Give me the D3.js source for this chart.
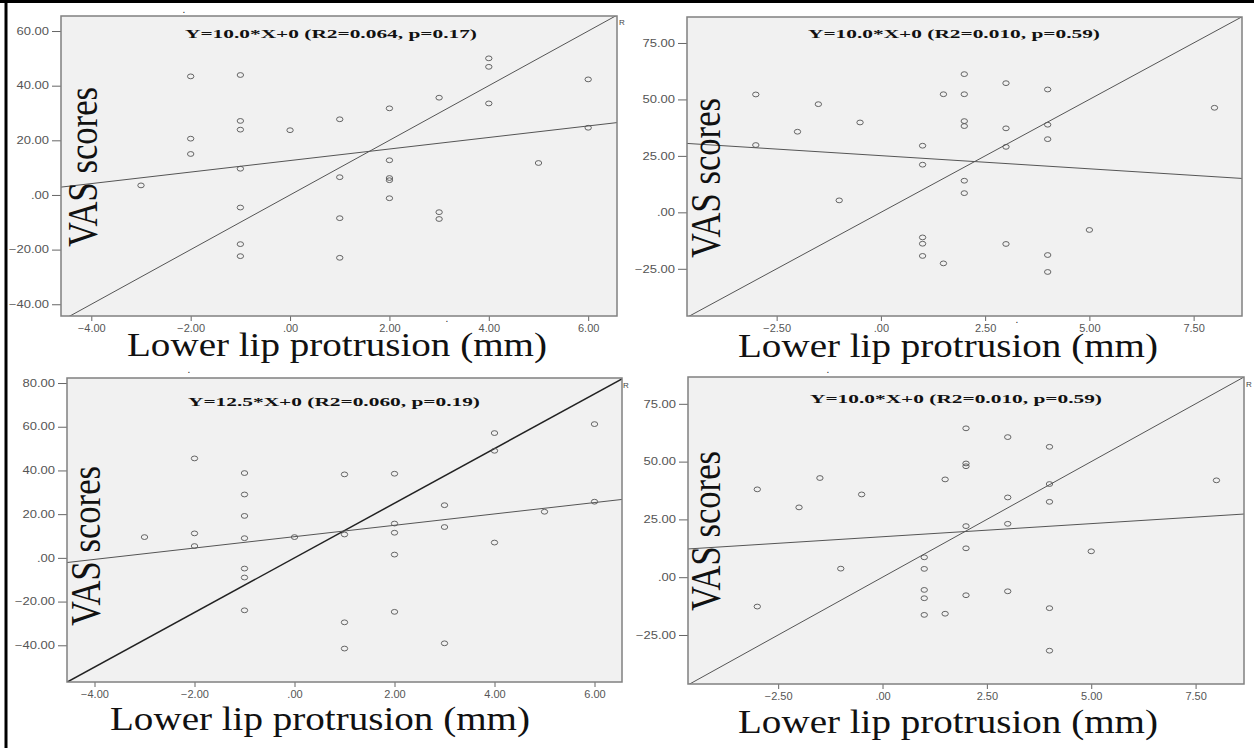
<!DOCTYPE html>
<html>
<head>
<meta charset="utf-8">
<script src="https://cdn.jsdelivr.net/npm/d3@7"></script>
<style>
  body { margin: 0; background: #fff; }
  svg { display: block; }
</style>
</head>
<body>
<div id="chart"></div>
<script>
// tick values of the two axis layouts
const xTicksA = [-4, -2, 0, 2, 4, 6];
const yTicksA = [-40, -20, 0, 20, 40, 60];
const yTicksC = [-40, -20, 0, 20, 40, 60, 80];
const xTicksB = [-2.5, 0, 2.5, 5, 7.5];
const yTicksB = [-25, 0, 25, 50, 75];

// axis extents
const xDomains = [[-4.61, 6.58], [-4.65, 8.66], [-4.55, 6.55], [-4.66, 8.66]];
const yDomains = [[-44.3, 65.5], [-45.9, 86.5], [-56.8, 82.3], [-46.2, 86.6]];

// reference line slopes (Y = k*X + 0) and fitted lines (intercept, slope)
const refSlopes = [10.0, 10.0, 12.5, 10.0];
const fitIntercepts = [12.6, 25.1, 9.7, 17.5];
const fitSlopes = [2.11, -1.165, 2.6, 1.134];

const statLabels = [
  "Y=10.0*X+0 (R2=0.064, p=0.17)",
  "Y=10.0*X+0 (R2=0.010, p=0.59)",
  "Y=12.5*X+0 (R2=0.060, p=0.19)",
  "Y=10.0*X+0 (R2=0.010, p=0.59)"
];
const yTitle = "VAS scores";
const xTitle = "Lower lip protrusion (mm)";

// scatter points
const p1X = [-2, -1, -1, -1, 0, -2, -2, -1, -3, -1, -1, -1, 4, 4, 6, 3, 4, 2, 1, 6, 2, 5, 1, 2, 2, 2, 3, 3, 1, 1];
const p1Y = [43.4, 43.9, 27.1, 23.9, 23.7, 20.6, 15.0, 9.6, 3.5, -4.6, -18.0, -22.4, 50.0, 46.9, 42.3, 35.6, 33.5, 31.7, 27.7, 24.6, 12.7, 11.7, 6.5, 6.2, 5.4, -1.2, -6.3, -8.8, -8.5, -23.0];

const p2X = [-3, -3, -1.5, -2, -0.5, -1, 1, 1, 1, 1, 1, 1.5, 1.5, 2, 2, 2, 2, 2, 2, 3, 3, 3, 3, 4, 4, 4, 4, 4, 5, 8];
const p2Y = [52.2, 29.8, 47.9, 35.7, 39.8, 5.3, 29.5, 21.1, -11.1, -13.9, -19.3, 52.3, -22.6, 61.2, 52.3, 40.4, 38.2, 14.0, 8.5, 57.2, 37.2, 29.0, -14.0, 54.4, 38.8, 32.4, -18.9, -26.4, -7.8, 46.3];

const p3X = [-3, -2, -2, -2, -1, -1, -1, -1, -1, -1, -1, 0, 1, 1, 1, 1, 2, 2, 2, 2, 2, 3, 3, 3, 4, 4, 4, 5, 6, 6];
const p3Y = [9.5, 45.5, 11.2, 5.4, 38.8, 29.0, 19.2, 9.0, -4.9, -9.0, -24.0, 9.5, 38.2, 10.7, -29.5, -41.5, 38.5, 15.7, 11.5, 1.5, -24.7, 24.1, 14.1, -39.1, 57.1, 49.0, 7.0, 21.1, 61.2, 25.7];

const p4X = [-3, -3, -2, -1.5, -0.5, -1, 1, 1, 1, 1, 1, 1.5, 1.5, 2, 2, 2, 2, 2, 2, 3, 3, 3, 3, 4, 4, 4, 4, 4, 5, 8];
const p4Y = [38.0, -12.7, 30.2, 42.9, 35.8, 3.7, 8.6, 3.6, -5.5, -9.1, -16.3, 42.3, -15.8, 64.4, 49.2, 48.0, 22.1, 12.5, -7.8, 60.6, 34.5, 23.1, -6.1, 56.4, 40.3, 32.6, -13.4, -31.8, 11.2, 41.9];

const W = 1254, H = 748;

// where each panel sits on the page
const layout = [
  {l: 61, r: 617, t: 16, b: 316, stat: [185, 38], vas: [97, 167], xt: [127, 356], rLabel: [619, 25], dots: [[184, 13], [447, 322]]},
  {l: 687, r: 1242, t: 17, b: 316, stat: [808, 38], vas: [720, 178], xt: [738, 357], rLabel: null, dots: [[1017, 323]]},
  {l: 67, r: 622, t: 378, b: 682, stat: [188, 406], vas: [100, 546], xt: [110, 730], rLabel: [623, 388], dots: [[189, 373]]},
  {l: 688, r: 1244, t: 377, b: 684, stat: [810, 403], vas: [720, 531], xt: [738, 733], rLabel: [1246, 387], dots: [[828, 373]]}
];

const panels = [
  {xs: p1X, ys: p1Y, xt: xTicksA, yt: yTicksA},
  {xs: p2X, ys: p2Y, xt: xTicksB, yt: yTicksB},
  {xs: p3X, ys: p3Y, xt: xTicksA, yt: yTicksC},
  {xs: p4X, ys: p4Y, xt: xTicksB, yt: yTicksB}
];

const fmt = v => d3.format(".2f")(v).replace(/^(-?)0\./, "$1.");

const svg = d3.select("#chart")
  .append("svg")
    .attr("width", W)
    .attr("height", H);

svg.append("rect").attr("width", W).attr("height", H).attr("fill", "#fff");

// stretch a text element's width by a factor
function stretch(sel, f) {
  sel.each(function() {
    const w = this.getComputedTextLength();
    d3.select(this).attr("textLength", w * f).attr("lengthAdjust", "spacingAndGlyphs");
  });
}

panels.forEach((p, i) => {
  const L = layout[i];
  const x = d3.scaleLinear().domain(xDomains[i]).range([L.l, L.r]);
  const y = d3.scaleLinear().domain(yDomains[i]).range([L.b, L.t]);

  const clipId = "clip" + i;
  svg.append("clipPath").attr("id", clipId)
    .append("rect")
      .attr("x", L.l).attr("y", L.t)
      .attr("width", L.r - L.l).attr("height", L.b - L.t);

  // plot background
  svg.append("rect")
    .attr("x", L.l).attr("y", L.t)
    .attr("width", L.r - L.l).attr("height", L.b - L.t)
    .attr("fill", "#f1f1f1");

  // Y axis
  const gy = svg.append("g")
    .attr("transform", `translate(${L.l},0)`)
    .call(d3.axisLeft(y).tickValues(p.yt).tickFormat(fmt).tickSize(9).tickPadding(3));
  gy.select(".domain").remove();
  gy.selectAll("line").attr("stroke", "#666");
  gy.selectAll("text")
    .attr("fill", "#555")
    .style("font-family", "'Liberation Sans', Arial, sans-serif")
    .style("font-size", "10px")
    .call(stretch, 1.3);

  // X axis
  const gx = svg.append("g")
    .attr("transform", `translate(0,${L.b})`)
    .call(d3.axisBottom(x).tickValues(p.xt).tickFormat(fmt).tickSize(5).tickPadding(4));
  gx.select(".domain").remove();
  gx.selectAll("line").attr("stroke", "#666");
  gx.selectAll("text")
    .attr("fill", "#555")
    .style("font-family", "'Liberation Sans', Arial, sans-serif")
    .style("font-size", "10px")
    .call(stretch, 1.1);

  const g = svg.append("g").attr("clip-path", `url(#${clipId})`);
  const dom = xDomains[i];
  const line = d3.line().x(d => x(d[0])).y(d => y(d[1]));

  // reference line Y = k*X
  g.append("path")
    .attr("d", line(dom.map(v => [v, refSlopes[i] * v])))
    .attr("fill", "none")
    .attr("stroke", i === 2 ? "#222" : "#555")
    .attr("stroke-width", i === 2 ? 1.5 : 1);

  // fitted line
  g.append("path")
    .attr("d", line(dom.map(v => [v, fitIntercepts[i] + fitSlopes[i] * v])))
    .attr("fill", "none")
    .attr("stroke", "#555")
    .attr("stroke-width", 1);

  // points
  g.selectAll("ellipse")
    .data(p.xs.map((v, k) => [v, p.ys[k]]))
    .enter()
    .append("ellipse")
      .attr("cx", d => x(d[0]))
      .attr("cy", d => y(d[1]))
      .attr("rx", 3.2)
      .attr("ry", 2.4)
      .attr("fill", "none")
      .attr("stroke", "#555")
      .attr("stroke-width", 0.9);

  // frame
  svg.append("rect")
    .attr("x", L.l).attr("y", L.t)
    .attr("width", L.r - L.l).attr("height", L.b - L.t)
    .attr("fill", "none")
    .attr("stroke", "#808080")
    .attr("stroke-width", 1.5);

  // stats label
  svg.append("text")
    .attr("x", L.stat[0]).attr("y", L.stat[1])
    .attr("textLength", 292).attr("lengthAdjust", "spacingAndGlyphs")
    .style("font-family", "'Liberation Serif', 'Times New Roman', serif")
    .style("font-weight", "bold")
    .style("font-size", "12.5px")
    .attr("fill", "#111")
    .text(statLabels[i]);

  // y title
  svg.append("text")
    .attr("transform", `translate(${L.vas[0]},${L.vas[1]}) rotate(-90)`)
    .attr("text-anchor", "middle")
    .attr("textLength", 160).attr("lengthAdjust", "spacingAndGlyphs")
    .style("font-family", "'Liberation Serif', 'Times New Roman', serif")
    .style("font-size", "42px")
    .attr("fill", "#111")
    .text(yTitle);

  // x title
  svg.append("text")
    .attr("x", L.xt[0]).attr("y", L.xt[1])
    .attr("textLength", 420).attr("lengthAdjust", "spacingAndGlyphs")
    .style("font-family", "'Liberation Serif', 'Times New Roman', serif")
    .style("font-size", "34px")
    .attr("fill", "#111")
    .text(xTitle);

  // clipped "R² Linear" tag and stray dots from the original export
  if (L.rLabel) {
    svg.append("text")
      .attr("x", L.rLabel[0]).attr("y", L.rLabel[1])
      .style("font-family", "'Liberation Sans', Arial, sans-serif")
      .style("font-size", "8px")
      .attr("fill", "#444")
      .text("R");
  }
  L.dots.forEach(d => {
    svg.append("text")
      .attr("x", d[0]).attr("y", d[1])
      .attr("text-anchor", "middle")
      .style("font-family", "'Liberation Sans', Arial, sans-serif")
      .style("font-size", "10px")
      .attr("fill", "#222")
      .text(".");
  });
});

// black frame on the left and top
svg.append("line").attr("x1", 0).attr("x2", W).attr("y1", 1.5).attr("y2", 1.5)
  .attr("stroke", "#000").attr("stroke-width", 3);
svg.append("line").attr("x1", 6).attr("x2", 6).attr("y1", 0).attr("y2", H)
  .attr("stroke", "#000").attr("stroke-width", 3);
</script>
</body>
</html>
